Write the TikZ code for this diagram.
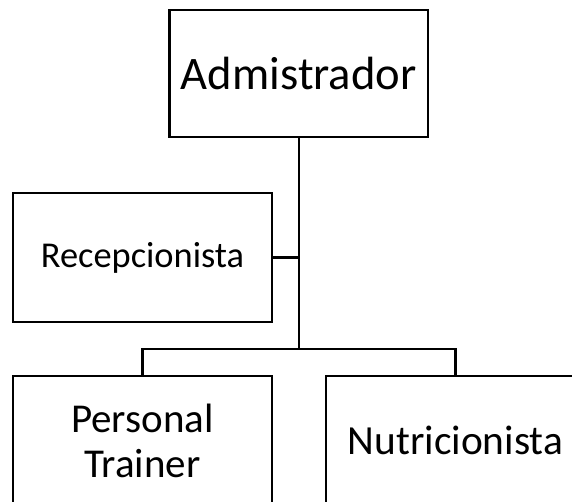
\documentclass[tikz,border=0pt]{standalone}
\usepackage{fontspec}
\setmainfont{Carlito}
\begin{document}
\begin{tikzpicture}[x=1pt,y=1pt,
  box/.style={draw=black,line width=2.2pt,rectangle,inner sep=0pt,align=center,fill=white},
  conn/.style={draw=black,line width=2.2pt}]
\clip (0,0) rectangle (572,502);
\fill[white] (0,0) rectangle (572,502);
\node[box,minimum width=258.5pt,minimum height=127pt,font=\fontsize{46.6}{56}\selectfont] (adm) at (298.75,428.5) {Admistrador};
\node[box,minimum width=259pt,minimum height=129pt,font=\fontsize{36.4}{44}\selectfont] (rec) at (142.5,244.5) {Recepcionista};
\node[box,minimum width=259pt,minimum height=129pt,font=\fontsize{41}{45}\selectfont] (pt) at (142.5,61.5) {Personal\\Trainer};
\node[box,minimum width=259pt,minimum height=129pt,font=\fontsize{41.4}{45}\selectfont] (nut) at (455.5,61.5) {Nutricionista};
\coordinate (j) at (adm.south |- 0,153);
\draw[conn] (adm.south) -- (j);
\draw[conn] (rec.east) -- (adm.south |- rec.east);
\draw[conn] (pt.north) |- (nut.north |- j) -- (nut.north);
\end{tikzpicture}
\end{document}
